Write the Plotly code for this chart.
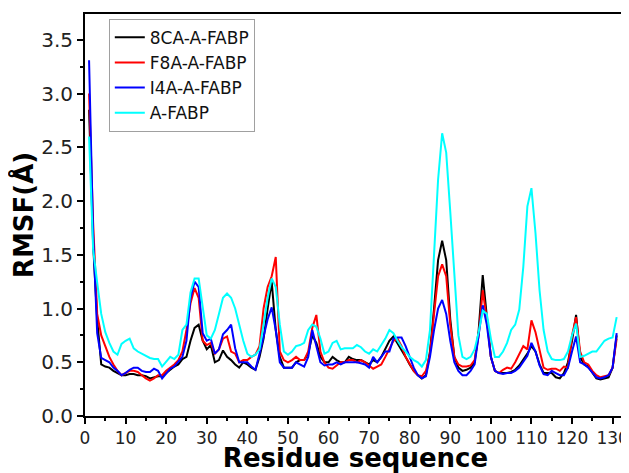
import plotly.graph_objects as go

residues = list(range(1, 132))

ca8 = [2.85, 1.6, 0.9, 0.48, 0.46, 0.45, 0.42, 0.4, 0.38, 0.38,
       0.39, 0.39, 0.38, 0.38, 0.37, 0.35, 0.36, 0.37, 0.37, 0.4,
       0.43, 0.46, 0.48, 0.53, 0.55, 0.7, 0.82, 0.85, 0.7, 0.62,
       0.66, 0.5, 0.52, 0.61, 0.55, 0.52, 0.48, 0.45, 0.5, 0.48,
       0.45, 0.43, 0.55, 0.72, 1.0, 1.25, 0.8, 0.55, 0.45, 0.45,
       0.45, 0.5, 0.52, 0.52, 0.58, 0.75, 0.68, 0.55, 0.5, 0.5,
       0.55, 0.52, 0.5, 0.5, 0.55, 0.53, 0.52, 0.52, 0.5, 0.48,
       0.52, 0.5, 0.55, 0.62, 0.7, 0.74, 0.68, 0.62, 0.55, 0.48,
       0.42, 0.38, 0.35, 0.38, 0.6, 1.0, 1.45, 1.63, 1.45, 0.9,
       0.55, 0.45, 0.42, 0.43, 0.45, 0.5, 0.8, 1.31, 0.95, 0.55,
       0.42, 0.4, 0.4, 0.4, 0.41, 0.43, 0.47, 0.52, 0.58, 0.65,
       0.6, 0.48, 0.4, 0.4, 0.4, 0.36, 0.35, 0.4, 0.5, 0.7,
       0.94, 0.55, 0.48, 0.46, 0.4, 0.35, 0.34, 0.35, 0.36, 0.45,
       0.75]

f8a = [3.0, 1.8, 0.95, 0.75, 0.65, 0.55, 0.48, 0.42, 0.38, 0.4,
       0.42, 0.42, 0.41, 0.38, 0.35, 0.33, 0.35, 0.38, 0.38, 0.42,
       0.45, 0.48, 0.52, 0.6, 0.8, 1.05, 1.19, 1.1, 0.7, 0.66,
       0.68, 0.58, 0.62, 0.72, 0.74, 0.6, 0.58, 0.5, 0.52, 0.52,
       0.55, 0.57, 0.65, 1.0, 1.2, 1.3, 1.48, 0.6, 0.52, 0.5,
       0.52, 0.55, 0.52, 0.52, 0.6, 0.82, 0.94, 0.6, 0.5, 0.45,
       0.44, 0.47, 0.5, 0.5, 0.52, 0.52, 0.5, 0.52, 0.5, 0.47,
       0.44, 0.46, 0.48, 0.55, 0.62, 0.7, 0.72, 0.65, 0.55, 0.48,
       0.42, 0.38, 0.37, 0.42, 0.58, 0.95, 1.3, 1.41, 1.3, 0.85,
       0.55, 0.48, 0.46, 0.46, 0.47, 0.52, 0.75, 1.17, 0.9, 0.55,
       0.42, 0.4, 0.43, 0.45, 0.44, 0.5, 0.58, 0.65, 0.62, 0.89,
       0.78, 0.6, 0.45, 0.43, 0.44, 0.44, 0.42, 0.46, 0.45, 0.75,
       0.92, 0.6, 0.5, 0.48, 0.42, 0.38, 0.36, 0.37, 0.38, 0.45,
       0.72]

i4a = [3.31, 1.7, 0.77, 0.54, 0.52, 0.5, 0.45, 0.42, 0.38, 0.4,
       0.43, 0.45, 0.45, 0.42, 0.41, 0.41, 0.44, 0.42, 0.35, 0.39,
       0.44, 0.46, 0.5, 0.55, 0.7, 1.1, 1.25, 1.2, 0.77, 0.7,
       0.72, 0.58, 0.62, 0.76, 0.8, 0.85, 0.63, 0.5, 0.5, 0.5,
       0.46, 0.43, 0.58, 0.75, 0.9, 1.01, 0.8, 0.5, 0.45, 0.45,
       0.45, 0.5, 0.48, 0.46, 0.55, 0.8, 0.65, 0.5, 0.47, 0.48,
       0.48, 0.5, 0.48, 0.5, 0.5, 0.5, 0.5, 0.49, 0.48, 0.45,
       0.55, 0.5, 0.55, 0.6, 0.6, 0.72, 0.73, 0.73, 0.65, 0.55,
       0.45, 0.38, 0.35, 0.37, 0.55, 0.8, 1.0, 1.08, 0.95, 0.7,
       0.5, 0.42, 0.38, 0.38, 0.42, 0.48, 0.75, 1.03, 0.85, 0.55,
       0.42, 0.4, 0.39, 0.4, 0.4, 0.42, 0.45, 0.5, 0.56, 0.68,
       0.6, 0.47, 0.39, 0.38, 0.42, 0.4, 0.38, 0.38, 0.45, 0.6,
       0.74, 0.5, 0.48, 0.45, 0.4, 0.36, 0.35, 0.36, 0.38, 0.45,
       0.77]

afabp = [2.6, 1.55, 1.24, 0.95, 0.78, 0.68, 0.6, 0.57, 0.67, 0.7,
         0.72, 0.63, 0.6, 0.58, 0.56, 0.54, 0.53, 0.53, 0.46, 0.5,
         0.55, 0.53, 0.57, 0.8, 0.85, 1.15, 1.28, 1.28, 1.0, 0.75,
         0.72, 0.8, 0.95, 1.1, 1.14, 1.1, 1.0, 0.85, 0.7, 0.58,
         0.55, 0.57, 0.62, 0.85, 1.1, 1.28, 1.2, 0.85, 0.6, 0.57,
         0.6, 0.65, 0.66, 0.68, 0.8, 0.85, 0.83, 0.72, 0.58, 0.6,
         0.68, 0.7, 0.62, 0.63, 0.63, 0.63, 0.66, 0.64, 0.6, 0.58,
         0.62, 0.6, 0.66, 0.72, 0.8, 0.77, 0.7, 0.64, 0.6, 0.55,
         0.52, 0.5, 0.46, 0.52, 0.8, 1.5, 2.2, 2.63, 2.45, 1.9,
         1.3, 0.75, 0.55, 0.53, 0.55, 0.62, 0.78, 0.98, 0.95, 0.72,
         0.55, 0.55, 0.6, 0.68, 0.8, 0.85, 0.99, 1.39, 1.95, 2.12,
         1.7, 1.17, 0.8, 0.6, 0.53, 0.52, 0.52, 0.53, 0.6, 0.75,
         0.86, 0.55, 0.56, 0.58, 0.6, 0.6, 0.65, 0.7, 0.72, 0.73,
         0.92]

names = ["8CA-A-FABP", "F8A-A-FABP", "I4A-A-FABP", "A-FABP"]
colors = ["#000000", "#ff0000", "#0000ff", "#00ffff"]
series = [ca8, f8a, i4a, afabp]

fig = go.Figure()
for name, col, vals in zip(names, colors, series):
    fig.add_trace(go.Scatter(x=residues, y=vals, mode="lines", name=name,
                             line=dict(color=col, width=2)))

font_family = "DejaVu Sans, sans-serif"
fig.update_layout(
    width=621, height=465,
    margin=dict(l=77, r=3, t=6, b=57),
    paper_bgcolor="white", plot_bgcolor="white",
    font=dict(family=font_family, color="#222222"),
    showlegend=True,
    legend=dict(x=0.044, y=0.988, xanchor="left", yanchor="top",
                bordercolor="#a0a0a0", borderwidth=1, bgcolor="white",
                font=dict(size=17, color="#111111"), tracegroupgap=0),
    xaxis=dict(range=[0, 133.3], tickmode="linear", tick0=0, dtick=10,
               automargin=False,
               ticks="outside", ticklen=6, tickwidth=1.5, tickcolor="black",
               minor=dict(dtick=5, ticks="outside", ticklen=3, tickcolor="black", tickwidth=1.5),
               showline=True, linecolor="black", linewidth=2, mirror=True,
               showgrid=False, zeroline=False,
               tickfont=dict(size=17, color="#222222"),
               title=dict(text="<b>Residue sequence</b>", font=dict(size=26, color="black"), standoff=12)),
    yaxis=dict(range=[0, 3.74], tickmode="linear", tick0=0, dtick=0.5,
               tickformat=".1f", automargin=False,
               ticks="outside", ticklen=6, tickwidth=1.5, tickcolor="black",
               minor=dict(dtick=0.25, ticks="outside", ticklen=3, tickcolor="black", tickwidth=1.5),
               showline=True, linecolor="black", linewidth=2, mirror=True,
               showgrid=False, zeroline=False,
               tickfont=dict(size=20, color="#222222"),
               title=dict(text="<b>RMSF(Å)</b>", font=dict(size=26, color="black"), standoff=2)),
)

fig.write_html("out.html")
